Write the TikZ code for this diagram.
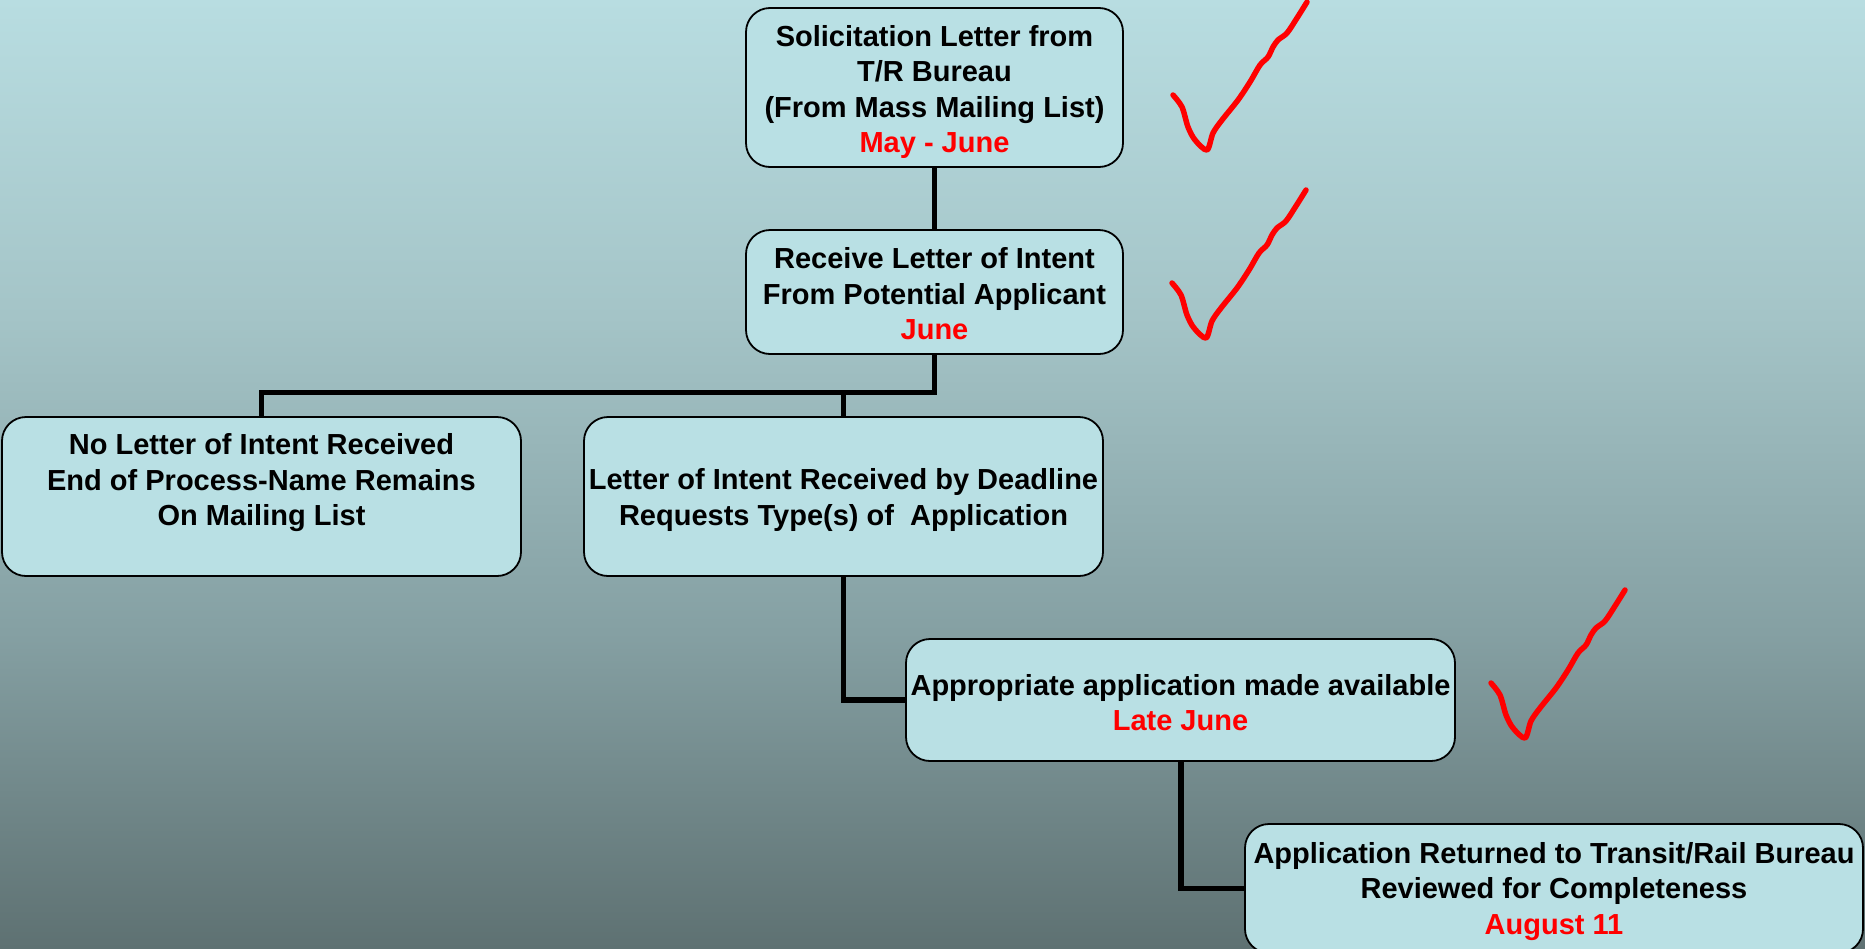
\documentclass[tikz,border=0pt]{standalone}
\usepackage{fontspec}
\setmainfont{Liberation Sans}
\definecolor{bgtop}{HTML}{B8DDE1}
\definecolor{bgm1}{HTML}{A4C4C7}
\definecolor{bgm2}{HTML}{85A0A3}
\definecolor{bgbot}{HTML}{5E7172}
\definecolor{boxfill}{HTML}{B9E0E4}
\definecolor{datered}{HTML}{FF0000}
\pgfdeclareverticalshading{bgshade}{100bp}{color(0bp)=(bgbot); color(25bp)=(bgbot); color(41.67bp)=(bgm2); color(58.33bp)=(bgm1); color(75bp)=(bgtop); color(100bp)=(bgtop)}
\begin{document}
\begin{tikzpicture}[x=1pt,y=-1pt,
  box/.style={draw=black, line width=1.8pt, fill=boxfill, rounded corners=24pt, inner sep=0pt},
  boxtext/.style={align=center, inner sep=0pt,
    font=\bfseries\fontsize{29}{35.5}\selectfont},
  conn/.style={draw=black, line width=5.8pt},
  tickmark/.style={draw=datered, line width=5.5pt, line cap=round, line join=round},
  tick/.pic={\draw[tickmark] plot[smooth, tension=0.5] coordinates {(0,0) (9,12) (15,32) (22,45) (34,55) (40,38) (49,25) (65,5) (77,-13) (87,-30) (95,-38) (100,-48) (105,-55) (114,-62) (124,-77) (134,-93)};}
]
\useasboundingbox (0,0) rectangle (1865,948);
\clip (0,0) rectangle (1865,948);
\shade[shading=bgshade] (0,0) rectangle (1865,948);

\node[box, minimum width=377pt, minimum height=159pt] (b1) at (934.5,87.5) {};
\node[box, minimum width=377pt, minimum height=124pt] (b2) at (934.5,292) {};
\node[box, minimum width=519pt, minimum height=159pt] (b3) at (261.5,496.5) {};
\node[box, minimum width=519pt, minimum height=159pt] (b4) at (843.5,496.5) {};
\node[box, minimum width=549pt, minimum height=122pt] (b5) at (1180.5,700) {};
\node[box, minimum width=618pt, minimum height=129pt] (b6) at (1554,888.5) {};

\coordinate (j1) at (934.5,392.5);
\coordinate (j2) at (261.5,392.5);
\coordinate (j3) at (843.5,392.5);
\coordinate (k1) at (843.5,700);
\coordinate (k2) at (1181,888.5);

\node[boxtext] (t1) at ([yshift=-4.5pt]b1.center)
  {Solicitation Letter from\\T/R Bureau\\(From Mass Mailing List)\\\textcolor{datered}{May - June}};
\node[boxtext] (t2) at ([yshift=-2pt]b2.center)
  {Receive Letter of Intent\\From Potential Applicant\\\textcolor{datered}{June}};
\node[boxtext] (t3) at ([yshift=13.5pt]b3.center)
  {No Letter of Intent Received\\End of Process-Name Remains\\On Mailing List};
\node[boxtext] (t4) at ([yshift=-3.5pt]b4.center)
  {Letter of Intent Received by Deadline\\Requests Type(s) of\ \ Application};
\node[boxtext] (t5) at ([yshift=-2.5pt]b5.center)
  {Appropriate application made available\\\textcolor{datered}{Late June}};
\node[boxtext] (t6) at ([yshift=-3pt]b6.center)
  {Application Returned to Transit/Rail Bureau\\Reviewed for Completeness\\\textcolor{datered}{August 11}};

\draw[conn] (b1.south) -- (b2.north);
\draw[conn] (b2.south) -- (j1) -- (j2) -- (b3.north);
\draw[conn] (j3) -- (b4.north);
\draw[conn] (b4.south) -- (k1) -- (b5.west);
\draw[conn] (b5.south -| k2) -- (k2) -- (b6.west);

\pic at (1173,95) {tick};
\pic at (1172,283) {tick};
\pic at (1491,683) {tick};
\end{tikzpicture}
\end{document}
